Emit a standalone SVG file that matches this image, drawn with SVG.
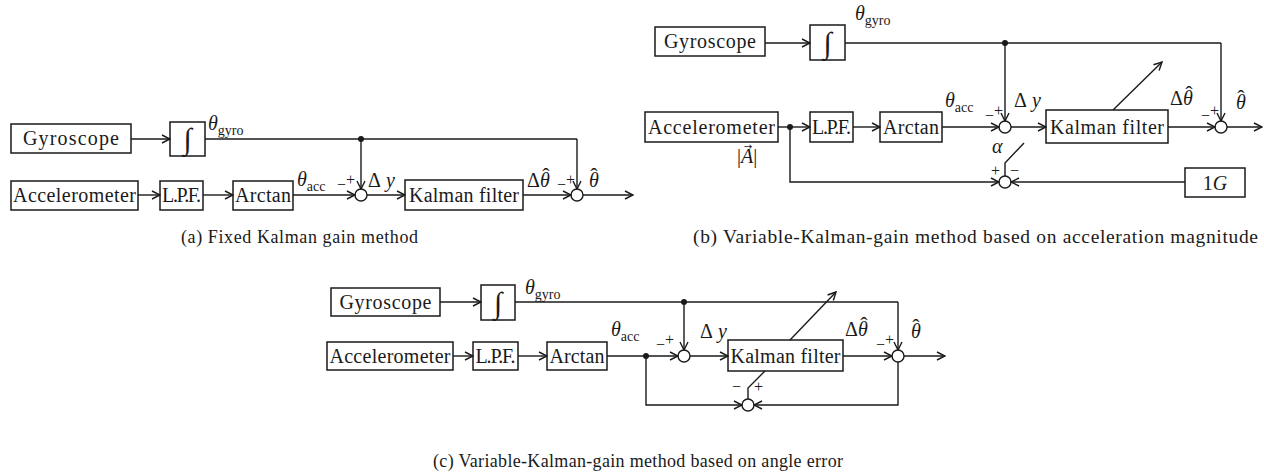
<svg xmlns="http://www.w3.org/2000/svg" width="1264" height="474" viewBox="0 0 1264 474">
  <style>
    .box { fill: #fff; stroke: #1a1a1a; stroke-width: 1.5; }
    .ln { fill: none; stroke: #1a1a1a; stroke-width: 1.4; }
    .arr { fill: none; stroke: #1a1a1a; stroke-width: 1.4; marker-end: url(#ah); }
    .sum { fill: #fff; stroke: #1a1a1a; stroke-width: 1.4; }
    .dot { fill: #1a1a1a; }
    text { font-family: "Liberation Serif", "DejaVu Serif", serif; fill: #1a1a1a; }
    .lbl { font-size: 20px; text-anchor: middle; }
    .int { font-size: 30px; text-anchor: middle; }
    .mi { font-size: 20px; font-style: italic; }
    .sub { font-size: 14px; font-style: normal; }
    .sg { font-size: 16px; }
    .hat { font-size: 22px; text-anchor: middle; }
    .vec { font-family: "DejaVu Sans", sans-serif; font-size: 10px; text-anchor: middle; }
    .cap { font-size: 18px; }
    .cap-b { font-size: 19.5px; }
  </style>
  <defs>
    <marker id="ah" viewBox="0 0 10 10" refX="9" refY="5" markerWidth="10" markerHeight="10" markerUnits="userSpaceOnUse" orient="auto">
      <path d="M1,1 L9,5 L1,9" fill="none" stroke="#1a1a1a" stroke-width="1.4"/>
    </marker>
  </defs>

  <!-- ===== (a) fixed gain ===== -->
  <g id="a-gyro"><rect class="box" x="11" y="124" width="120" height="29"/><text class="lbl" x="71" y="145" textLength="96">Gyroscope</text></g>
  <g id="a-int"><rect class="box" x="170" y="122" width="35" height="34"/><text class="int" x="187.5" y="149">∫</text></g>
  <g id="a-acc"><rect class="box" x="11" y="181" width="127" height="29"/><text class="lbl" x="74.5" y="202" textLength="123">Accelerometer</text></g>
  <g id="a-lpf"><rect class="box" x="160" y="181" width="43" height="29"/><text class="lbl" x="181.5" y="202" textLength="39">L.P.F.</text></g>
  <g id="a-atan"><rect class="box" x="233" y="181" width="60" height="29"/><text class="lbl" x="263" y="202" textLength="56">Arctan</text></g>
  <g id="a-kf"><rect class="box" x="405" y="180" width="118" height="30"/><text class="lbl" x="464" y="202" textLength="110">Kalman filter</text></g>
  <g id="a-sum1"><circle class="sum" cx="361" cy="195" r="6"/></g>
  <g id="a-sum2"><circle class="sum" cx="577" cy="195" r="6"/></g>
  <g id="a-conn">
    <line class="arr" x1="131" y1="139" x2="170" y2="139"/>
    <polyline class="ln" points="205,139 577,139"/>
    <circle class="dot" cx="361" cy="139" r="3"/>
    <line class="arr" x1="361" y1="139" x2="361" y2="189"/>
    <line class="arr" x1="577" y1="139" x2="577" y2="189"/>
    <line class="arr" x1="138" y1="195" x2="160" y2="195"/>
    <line class="arr" x1="203" y1="195" x2="233" y2="195"/>
    <line class="arr" x1="293" y1="195" x2="355" y2="195"/>
    <line class="arr" x1="367" y1="195" x2="405" y2="195"/>
    <line class="arr" x1="523" y1="195" x2="571" y2="195"/>
    <line class="arr" x1="583" y1="195" x2="633" y2="195"/>
  </g>
  <g id="a-labels">
    <text class="mi" x="208" y="130">θ<tspan class="sub" dy="5">gyro</tspan></text>
    <text class="mi" x="297" y="186">θ<tspan class="sub" dy="5">acc</tspan></text>
    <text class="sg" x="337" y="190">−</text><text class="sg" x="346" y="185">+</text>
    <text class="mi" x="368" y="187"><tspan font-style="normal">Δ</tspan> y</text>
    <text class="mi" x="527" y="187"><tspan font-style="normal">Δ</tspan>θ</text>
    <text class="hat" x="546" y="183">ˆ</text>
    <text class="sg" x="557" y="190">−</text><text class="sg" x="566" y="185">+</text>
    <text class="mi" x="589" y="187">θ</text>
    <text class="hat" x="594" y="183">ˆ</text>
  </g>
  <text class="cap" x="181" y="243" textLength="237">(a)   Fixed Kalman gain method</text>

  <!-- ===== (b) gain from acceleration magnitude ===== -->
  <g id="b-gyro"><rect class="box" x="655" y="27" width="110" height="29"/><text class="lbl" x="710" y="48" textLength="92">Gyroscope</text></g>
  <g id="b-int"><rect class="box" x="810" y="25" width="35" height="35"/><text class="int" x="827.5" y="53">∫</text></g>
  <g id="b-acc"><rect class="box" x="645" y="112" width="133" height="30"/><text class="lbl" x="711.5" y="134" textLength="127">Accelerometer</text></g>
  <g id="b-lpf"><rect class="box" x="810" y="112" width="43" height="30"/><text class="lbl" x="831.5" y="134" textLength="39">L.P.F.</text></g>
  <g id="b-atan"><rect class="box" x="880" y="112" width="62" height="30"/><text class="lbl" x="911" y="134" textLength="56">Arctan</text></g>
  <g id="b-kf"><rect class="box" x="1046" y="110" width="122" height="33"/><text class="lbl" x="1107" y="134" textLength="114">Kalman filter</text></g>
  <g id="b-1g"><rect class="box" x="1185" y="168" width="60" height="29"/><text class="lbl" x="1215" y="190">1<tspan font-style="italic">G</tspan></text></g>
  <g id="b-sum1"><circle class="sum" cx="1005" cy="127" r="6"/></g>
  <g id="b-sum2"><circle class="sum" cx="1221" cy="127" r="6"/></g>
  <g id="b-sum3"><circle class="sum" cx="1005" cy="182" r="6"/></g>
  <g id="b-conn">
    <line class="arr" x1="765" y1="43" x2="810" y2="43"/>
    <polyline class="ln" points="845,43 1221,43"/>
    <circle class="dot" cx="1005" cy="43" r="3"/>
    <line class="arr" x1="1005" y1="43" x2="1005" y2="121"/>
    <line class="arr" x1="1221" y1="43" x2="1221" y2="121"/>
    <line class="arr" x1="778" y1="127" x2="810" y2="127"/>
    <circle class="dot" cx="790" cy="127" r="3"/>
    <line class="arr" x1="853" y1="127" x2="880" y2="127"/>
    <line class="arr" x1="942" y1="127" x2="999" y2="127"/>
    <line class="arr" x1="1011" y1="127" x2="1046" y2="127"/>
    <line class="arr" x1="1168" y1="127" x2="1215" y2="127"/>
    <line class="arr" x1="1227" y1="127" x2="1262" y2="127"/>
    <line class="arr" x1="1113" y1="110" x2="1162" y2="62"/>
    <polyline class="arr" points="790,127 790,182 999,182"/>
    <line class="arr" x1="1185" y1="182" x2="1011" y2="182"/>
    <polyline class="ln" points="1024,143 1005,163 1005,176"/>
  </g>
  <g id="b-labels">
    <text class="mi" x="855" y="20">θ<tspan class="sub" dy="5">gyro</tspan></text>
    <text class="mi" x="945" y="107">θ<tspan class="sub" dy="5">acc</tspan></text>
    <text class="sg" x="985" y="121">−</text><text class="sg" x="994" y="116">+</text>
    <text class="mi" x="1014" y="107"><tspan font-style="normal">Δ</tspan> y</text>
    <text class="mi" x="1170" y="105"><tspan font-style="normal">Δ</tspan>θ</text>
    <text class="hat" x="1189" y="101">ˆ</text>
    <text class="sg" x="1201" y="121">−</text><text class="sg" x="1210" y="116">+</text>
    <text class="mi" x="1236" y="109">θ</text>
    <text class="hat" x="1241" y="105">ˆ</text>
    <text class="mi" x="992" y="153">α</text>
    <text class="sg" x="991" y="176">+</text><text class="sg" x="1010" y="176">−</text>
    <text class="mi" x="737" y="163"><tspan font-style="normal">|</tspan>A<tspan font-style="normal">|</tspan></text>
    <text class="vec" x="748" y="150">→</text>
  </g>
  <text class="cap cap-b" x="693" y="243" textLength="565">(b)  Variable-Kalman-gain method based on acceleration magnitude</text>

  <!-- ===== (c) gain from angle error ===== -->
  <g id="c-gyro"><rect class="box" x="331" y="288" width="109" height="28"/><text class="lbl" x="385.5" y="309" textLength="92">Gyroscope</text></g>
  <g id="c-int"><rect class="box" x="481" y="285" width="34" height="35"/><text class="int" x="498" y="313">∫</text></g>
  <g id="c-acc"><rect class="box" x="327" y="342" width="126" height="28"/><text class="lbl" x="390" y="363" textLength="121">Accelerometer</text></g>
  <g id="c-lpf"><rect class="box" x="473" y="342" width="45" height="28"/><text class="lbl" x="495.5" y="363" textLength="40">L.P.F.</text></g>
  <g id="c-atan"><rect class="box" x="547" y="342" width="60" height="28"/><text class="lbl" x="577" y="363" textLength="55">Arctan</text></g>
  <g id="c-kf"><rect class="box" x="728" y="340" width="115" height="31"/><text class="lbl" x="785.5" y="363" textLength="110">Kalman filter</text></g>
  <g id="c-sum1"><circle class="sum" cx="684" cy="356" r="6"/></g>
  <g id="c-sum2"><circle class="sum" cx="898" cy="356" r="6"/></g>
  <g id="c-sum3"><circle class="sum" cx="748" cy="405" r="6"/></g>
  <g id="c-conn">
    <line class="arr" x1="440" y1="302" x2="481" y2="302"/>
    <polyline class="ln" points="515,302 898,302"/>
    <circle class="dot" cx="684" cy="302" r="3"/>
    <line class="arr" x1="684" y1="302" x2="684" y2="350"/>
    <line class="arr" x1="898" y1="302" x2="898" y2="350"/>
    <line class="arr" x1="453" y1="356" x2="473" y2="356"/>
    <line class="arr" x1="518" y1="356" x2="547" y2="356"/>
    <line class="arr" x1="607" y1="356" x2="678" y2="356"/>
    <circle class="dot" cx="646" cy="356" r="3"/>
    <line class="arr" x1="690" y1="356" x2="728" y2="356"/>
    <line class="arr" x1="843" y1="356" x2="892" y2="356"/>
    <line class="arr" x1="904" y1="356" x2="945" y2="356"/>
    <line class="arr" x1="790" y1="340" x2="836" y2="292"/>
    <polyline class="arr" points="646,356 646,405 742,405"/>
    <polyline class="arr" points="898,362 898,405 754,405"/>
    <polyline class="ln" points="765,371 748,388 748,399"/>
  </g>
  <g id="c-labels">
    <text class="mi" x="525" y="294">θ<tspan class="sub" dy="5">gyro</tspan></text>
    <text class="mi" x="611" y="336">θ<tspan class="sub" dy="5">acc</tspan></text>
    <text class="sg" x="656" y="350">−</text><text class="sg" x="665" y="345">+</text>
    <text class="mi" x="700" y="338"><tspan font-style="normal">Δ</tspan> y</text>
    <text class="mi" x="845" y="336"><tspan font-style="normal">Δ</tspan>θ</text>
    <text class="hat" x="864" y="332">ˆ</text>
    <text class="sg" x="876" y="350">−</text><text class="sg" x="885" y="345">+</text>
    <text class="mi" x="911" y="338">θ</text>
    <text class="hat" x="916" y="334">ˆ</text>
    <text class="sg" x="732" y="392">−</text><text class="sg" x="754" y="392">+</text>
  </g>
  <text class="cap" x="433" y="467" textLength="410">(c)  Variable-Kalman-gain method based on angle error</text>
</svg>
